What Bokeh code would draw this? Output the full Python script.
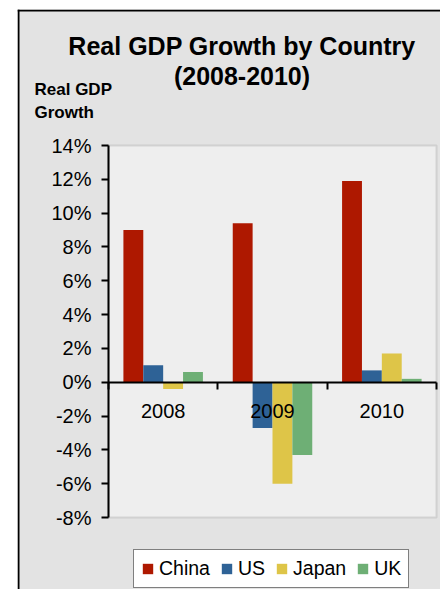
from bokeh.plotting import figure
from bokeh.models import (Range1d, FixedTicker, PrintfTickFormatter, Legend, LegendItem,
                          Label, BoxAnnotation, LinearAxis)
from bokeh.embed import file_html
from bokeh.resources import INLINE

# ---- data ----
years = ["2008", "2009", "2010"]
countries = ["China", "US", "Japan", "UK"]
china = [9.0, 9.4, 11.9]
us = [1.0, -2.7, 0.7]
japan = [-0.4, -6.0, 1.7]
uk = [0.6, -4.3, 0.2]
y_ticks = [-8, -6, -4, -2, 0, 2, 4, 6, 8, 10, 12, 14]
title_lines = ["Real GDP Growth by Country", "(2008-2010)"]
y_title_lines = ["Real GDP", "Growth"]

# ---- style / layout (pixels) ----
colors = ["#AE1800", "#2E6296", "#DEC548", "#6EAF75"]
FONT = "Liberation Sans"
W, H = 440, 589
FRAME_L, FRAME_T, FRAME_R, FRAME_B = 17, 9, 440, 589      # outer chart box
PLOT_L, PLOT_T, PLOT_R, PLOT_B = 108, 145, 436, 517       # plot area

n_cat = len(years)
y_lo, y_hi = y_ticks[0], y_ticks[-1]
sx = (PLOT_R - PLOT_L) / n_cat
sy = (PLOT_B - PLOT_T) / (y_hi - y_lo)
x_start = 0 - (PLOT_L - FRAME_L) / sx
x_end = n_cat + (FRAME_R - PLOT_R) / sx
y_end = y_hi + (PLOT_T - FRAME_T) / sy
y_start = y_lo - (FRAME_B - PLOT_B) / sy

p = figure(width=W, height=H, output_backend="svg", toolbar_location=None,
           x_range=Range1d(x_start, x_end), y_range=Range1d(y_start, y_end),
           min_border_left=FRAME_L, min_border_right=W - FRAME_R,
           min_border_top=FRAME_T, min_border_bottom=H - FRAME_B,
           x_axis_location=None, y_axis_location=None)
p.title.visible = False
p.border_fill_color = "white"
p.background_fill_color = "#E3E3E3"
p.outline_line_color = None
p.xgrid.visible = False
p.ygrid.visible = False

# plot area background + border
p.add_layout(BoxAnnotation(left=0, right=n_cat, bottom=y_lo, top=y_hi,
                           fill_color="#EEEEEE", fill_alpha=1,
                           line_color="#9C9C9C", line_width=2, level="underlay"))

# y axis
yaxis = LinearAxis(ticker=FixedTicker(ticks=y_ticks, minor_ticks=[]),
                   formatter=PrintfTickFormatter(format="%d%%"),
                   fixed_location=0, bounds=(y_lo, y_hi))
yaxis.axis_line_color = "black"
yaxis.axis_line_width = 2
yaxis.major_tick_out = 7
yaxis.major_tick_in = 0
yaxis.major_tick_line_width = 2
yaxis.minor_tick_out = 0
yaxis.minor_tick_in = 0
yaxis.major_label_text_font = FONT
yaxis.major_label_text_font_size = "20px"
yaxis.major_label_text_color = "black"
yaxis.major_label_standoff = 10
p.add_layout(yaxis, "left")

# x axis at zero
centers = [i + 0.5 for i in range(n_cat)]
xaxis = LinearAxis(ticker=FixedTicker(ticks=centers, minor_ticks=list(range(n_cat + 1))),
                   fixed_location=0, bounds=(0, n_cat),
                   major_label_overrides={c: yr for c, yr in zip(centers, years)})
xaxis.axis_line_color = "black"
xaxis.axis_line_width = 2
xaxis.major_tick_out = 0
xaxis.major_tick_in = 0
xaxis.major_tick_line_color = None
xaxis.minor_tick_out = 7
xaxis.minor_tick_in = 0
xaxis.minor_tick_line_color = "black"
xaxis.minor_tick_line_width = 2
xaxis.major_label_text_font = FONT
xaxis.major_label_text_font_size = "20px"
xaxis.major_label_text_color = "black"
xaxis.major_label_standoff = 15
p.add_layout(xaxis, "below")

# bars
series = [china, us, japan, uk]
n = len(countries)
bw = 1.0 / (n + 1.5)
items = []
for k, (name, vals, col) in enumerate(zip(countries, series, colors)):
    xs = [c + (k - (n - 1) / 2) * bw for c in centers]
    r = p.vbar(x=xs, top=vals, bottom=0, width=bw, fill_color=col, line_color=None)
    items.append(LegendItem(label=name, renderers=[r]))

legend = Legend(items=items, orientation="horizontal",
                location=(133 - FRAME_L, FRAME_B - 588),
                border_line_color="black", border_line_width=1,
                background_fill_color="white", background_fill_alpha=1,
                glyph_width=13, glyph_height=13, label_standoff=5, spacing=10,
                padding=7, margin=0, label_height=20,
                label_text_font=FONT, label_text_font_size="19.5px", label_text_color="black")
p.add_layout(legend)

# titles (screen units relative to the frame's bottom-left)
for txt, base in zip(title_lines, [45, 75]):
    p.add_layout(Label(x=241.5 - FRAME_L, y=FRAME_B - base, x_units="screen", y_units="screen",
                       text=txt, text_font=FONT, text_font_style="bold", text_font_size="25px",
                       text_align="center", text_baseline="alphabetic", text_color="black"))
for txt, base in zip(y_title_lines, [89, 112]):
    p.add_layout(Label(x=34 - FRAME_L, y=FRAME_B - base, x_units="screen", y_units="screen",
                       text=txt, text_font=FONT, text_font_style="bold", text_font_size="17px",
                       text_align="left", text_baseline="alphabetic", text_color="black"))

# outer chart border (left and top, black)
p.add_layout(BoxAnnotation(left=x_start, right=x_start + 2 / sx, bottom=y_start, top=y_end,
                           fill_color="black", fill_alpha=1, line_color=None, level="overlay"))
p.add_layout(BoxAnnotation(left=x_start, right=x_end, bottom=y_end - 2 / sy, top=y_end,
                           fill_color="black", fill_alpha=1, line_color=None, level="overlay"))

open("out.html", "w").write(file_html(p, INLINE))
